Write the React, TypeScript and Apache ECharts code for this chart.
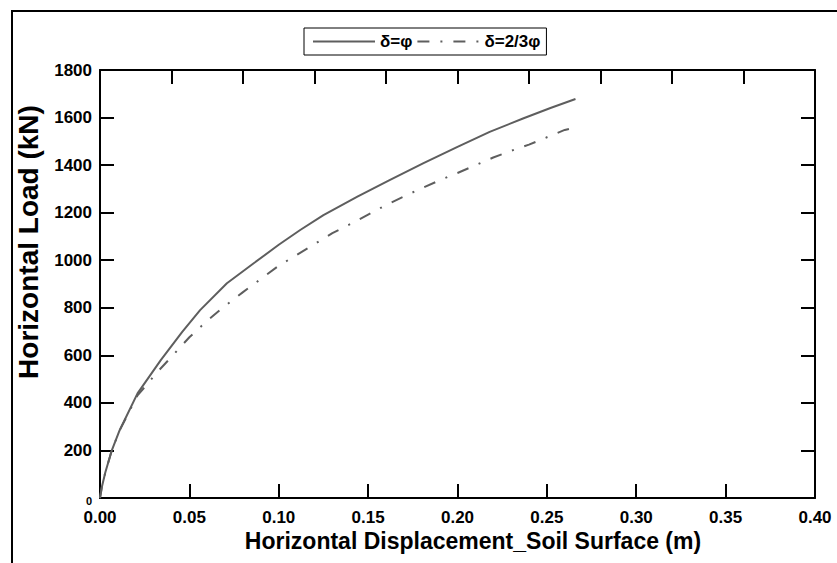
import React, { useEffect, useRef } from "react";
import * as echarts from "echarts";

const seriesNames = ["δ=φ", "δ=2/3φ"];

const fullX = [0, 0.001, 0.003, 0.0065, 0.011, 0.021, 0.034, 0.046, 0.056, 0.071, 0.086, 0.1, 0.112, 0.125, 0.144, 0.162, 0.181, 0.2, 0.218, 0.237, 0.252, 0.266];
const fullY = [0, 45, 108, 198, 285, 440, 580, 699, 790, 903, 987, 1065, 1127, 1190, 1267, 1337, 1408, 1477, 1540, 1597, 1640, 1678];

const twoThirdX = [0, 0.001, 0.003, 0.0065, 0.011, 0.021, 0.026, 0.031, 0.04, 0.05, 0.06, 0.07, 0.08, 0.09, 0.1, 0.11, 0.12, 0.13, 0.14, 0.15, 0.16, 0.17, 0.18, 0.19, 0.2, 0.21, 0.22, 0.23, 0.24, 0.25, 0.26, 0.268];
const twoThirdY = [0, 45, 108, 198, 285, 432, 475, 521, 594, 676, 746, 808, 866, 921, 977, 1022, 1068, 1114, 1152, 1192, 1232, 1268, 1303, 1336, 1367, 1399, 1432, 1460, 1486, 1517, 1548, 1562];

const xName = "Horizontal Displacement_Soil Surface (m)";
const yName = "Horizontal Load (kN)";

const FONT = "'Liberation Sans', Arial, sans-serif";
const LINE = "#5e5e5e";

export default function App() {
  const ref = useRef<HTMLDivElement>(null);
  useEffect(() => {
    if (!ref.current) return;
    const chart = echarts.init(ref.current, null, { renderer: "svg" });
    const zip = (xs: number[], ys: number[]) => xs.map((x, i) => [x, ys[i]]);
    const tickStyle = { show: true, inside: true, length: 14, lineStyle: { color: "#000", width: 2 } };
    const axisLine = { show: true, onZero: false, lineStyle: { color: "#000", width: 2 } };
    chart.setOption({
      animation: false,
      backgroundColor: "#fff",
      textStyle: { fontFamily: FONT },
      grid: { left: 100, right: 22, top: 70, bottom: 65 },
      legend: {
        left: 304,
        top: 28,
        padding: [5, 6, 5, 8],
        itemGap: 4,
        itemWidth: 62,
        itemHeight: 14,
        borderColor: "#000",
        borderWidth: 1,
        itemStyle: { opacity: 0 },
        textStyle: { fontFamily: FONT, fontWeight: "bold", fontSize: 17, color: "#000" },
        data: seriesNames,
      },
      xAxis: [
        {
          type: "value",
          position: "bottom",
          min: 0,
          max: 0.4,
          interval: 0.05,
          axisLine,
          axisTick: tickStyle,
          splitLine: { show: false },
          axisLabel: {
            fontFamily: FONT,
            fontWeight: "bold",
            fontSize: 17,
            color: "#000",
            margin: 11,
            formatter: (v: number) => v.toFixed(2),
          },
        },
        {
          type: "value",
          position: "top",
          min: 0,
          max: 0.4,
          interval: 0.04,
          axisLine,
          axisTick: tickStyle,
          splitLine: { show: false },
          axisLabel: { show: false },
        },
      ],
      yAxis: [
        {
          type: "value",
          position: "left",
          min: 0,
          max: 1800,
          interval: 200,
          axisLine,
          axisTick: tickStyle,
          splitLine: { show: false },
          axisLabel: {
            fontFamily: FONT,
            fontWeight: "bold",
            fontSize: 17,
            color: "#000",
            margin: 8,
            formatter: (v: number) => (v === 0 ? "{s|0}" : String(v)),
            rich: { s: { fontFamily: FONT, fontWeight: "bold", fontSize: 11, color: "#000", padding: [6, 0, 0, 0] } },
          },
        },
        {
          type: "value",
          position: "right",
          min: 0,
          max: 1800,
          interval: 200,
          axisLine,
          axisTick: tickStyle,
          splitLine: { show: false },
          axisLabel: { show: false },
        },
      ],
      series: [
        {
          name: seriesNames[0],
          type: "line",
          symbol: "none",
          data: zip(fullX, fullY),
          lineStyle: { color: LINE, width: 2 },
          itemStyle: { color: LINE },
          z: 3,
        },
        {
          name: seriesNames[1],
          type: "line",
          symbol: "none",
          data: zip(twoThirdX, twoThirdY),
          lineStyle: { color: LINE, width: 2, type: [12, 11, 2, 11] },
          itemStyle: { color: LINE },
          z: 2,
        },
      ],
      graphic: [
        { type: "line", shape: { x1: 11, y1: 11, x2: 837, y2: 11 }, style: { stroke: "#000", lineWidth: 2 } },
        { type: "line", shape: { x1: 12, y1: 10, x2: 12, y2: 563 }, style: { stroke: "#000", lineWidth: 2 } },
        {
          type: "text",
          x: 473,
          y: 541,
          style: {
            text: xName,
            fontFamily: FONT,
            fontWeight: "bold",
            fontSize: 23,
            fill: "#000",
            align: "center",
            verticalAlign: "middle",
          },
        },
        {
          type: "text",
          x: 28,
          y: 242,
          rotation: Math.PI / 2,
          style: {
            text: yName,
            fontFamily: FONT,
            fontWeight: "bold",
            fontSize: 28,
            fill: "#000",
            align: "center",
            verticalAlign: "middle",
          },
        },
      ],
    });
    return () => chart.dispose();
  }, []);
  return <div ref={ref} style={{ width: 837, height: 563, position: "absolute", left: 0, top: 0 }} />;
}
